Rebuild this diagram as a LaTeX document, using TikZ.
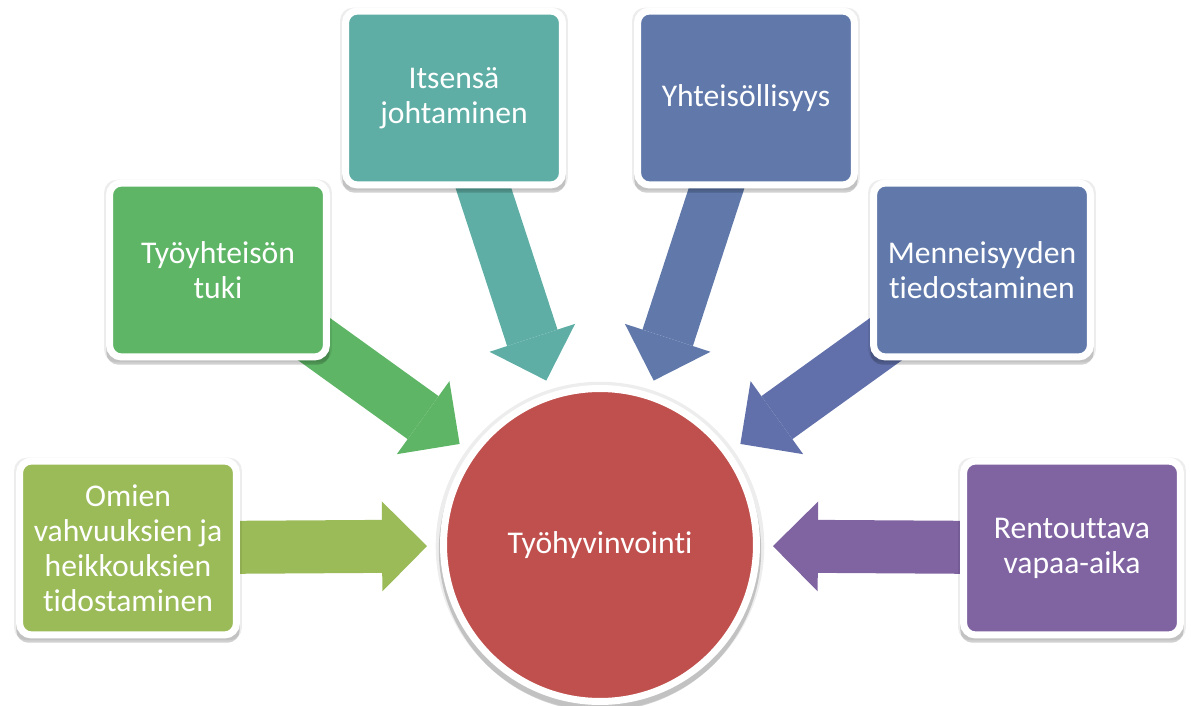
\documentclass[tikz,border=0pt]{standalone}
\usepackage{fontspec}
\setmainfont{Carlito}[Ligatures=NoCommon]
\usetikzlibrary{calc,shadows,backgrounds,arrows.meta}

\definecolor{oliveBox}{HTML}{9BBB59}
\definecolor{greenBox}{HTML}{5EB566}
\definecolor{tealBox}{HTML}{5EAEA5}
\definecolor{blueBox}{HTML}{6079AA}
\definecolor{indigoArrow}{HTML}{6170AA}
\definecolor{purpleBox}{HTML}{8064A2}
\definecolor{redHub}{HTML}{C0504D}

\tikzset{
  softshadow/.style={
    general shadow={shadow scale=1.05, shadow yshift=-0.02cm, opacity=0.07, fill=black},
    general shadow={shadow scale=1.03, shadow yshift=-0.1cm, opacity=0.18, fill=black}},
  topic/.style={rectangle, rounded corners=0.24cm, draw=white, line width=0.14cm,
    minimum width=4.34cm, minimum height=3.48cm, text=white, align=center,
    font=\fontsize{18}{20}\selectfont, softshadow},
  hub/.style={circle, draw=white, line width=0.14cm, fill=redHub,
    minimum size=6.26cm, text=white, font=\fontsize{18}{20}\selectfont, softshadow},
  bigarrow/.style={line width=1.06cm,
    -{Triangle[length=0.9cm 0 0, width=1.8cm 0 0, line width=0pt 0 0]}}
}

\begin{document}
\begin{tikzpicture}[x=0.02cm, y=-0.02cm]

% Fix the page to the reference size
\useasboundingbox (0,0) rectangle (1191,706);

% Central circle
\node[hub] (hub) at (600,545) {Työhyvinvointi};

% Topic boxes round the circle
\node[topic, fill=oliveBox] (omien) at (128,548) {Omien\\vahvuuksien ja\\heikkouksien\\tidostaminen};
\node[topic, fill=greenBox] (tyoyhteiso) at (218,270) {Työyhteisön\\tuki};
\node[topic, fill=tealBox] (itsensa) at (454,98) {Itsensä\\johtaminen};
\node[topic, fill=blueBox] (yhteiso) at (746,98) {Yhteisöllisyys};
\node[topic, fill=blueBox] (menneisyys) at (982,270) {Menneisyyden\\tiedostaminen};
\node[topic, fill=purpleBox] (rentouttava) at (1072,548) {Rentouttava\\vapaa-aika};

% Arrow tips, a fixed distance out from the circle centre
\coordinate (omienTip) at ($(hub.center)!3.46cm!(omien.center)$);
\coordinate (tyoyhteisoTip) at ($(hub.center)!3.46cm!(tyoyhteiso.center)$);
\coordinate (itsensaTip) at ($(hub.center)!3.46cm!(itsensa.center)$);
\coordinate (yhteisoTip) at ($(hub.center)!3.46cm!(yhteiso.center)$);
\coordinate (menneisyysTip) at ($(hub.center)!3.46cm!(menneisyys.center)$);
\coordinate (rentouttavaTip) at ($(hub.center)!3.46cm!(rentouttava.center)$);

% Block arrows, behind the boxes
\begin{scope}[on background layer]
\draw[bigarrow, oliveBox] (omien.center) -- (omienTip);
\draw[bigarrow, greenBox] (tyoyhteiso.center) -- (tyoyhteisoTip);
\draw[bigarrow, tealBox] (itsensa.center) -- (itsensaTip);
\draw[bigarrow, blueBox] (yhteiso.center) -- (yhteisoTip);
\draw[bigarrow, indigoArrow] (menneisyys.center) -- (menneisyysTip);
\draw[bigarrow, purpleBox] (rentouttava.center) -- (rentouttavaTip);
\end{scope}

\end{tikzpicture}
\end{document}
